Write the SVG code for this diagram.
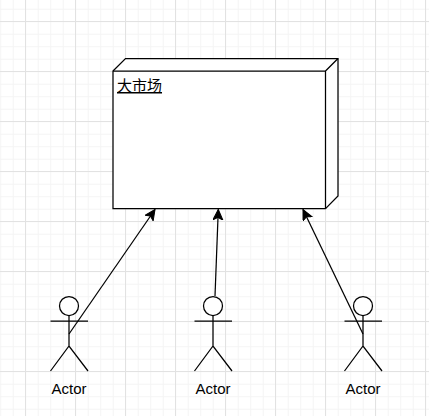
<svg xmlns="http://www.w3.org/2000/svg" width="429" height="416" viewBox="0 0 429 416">
<style>
.shape{fill:#fff;stroke:#000;stroke-width:1.25}
.line{fill:none;stroke:#000;stroke-width:1.25}
.label{font-family:"Liberation Sans",Arial,sans-serif;font-size:15px;fill:#000;text-anchor:middle}
.cjk{font-family:"Noto Sans CJK SC","Liberation Sans",sans-serif;font-size:15px;fill:#000;text-decoration:underline}
</style>
<defs>
<marker id="arrow" markerUnits="userSpaceOnUse" markerWidth="14" markerHeight="12" refX="10.5" refY="5" orient="auto">
<path d="M0 0L10.5 5L0 10L2.6 5Z" fill="#000" stroke="#000" stroke-width="1"/>
</marker>
<pattern id="minor" width="12.5" height="12.5" patternUnits="userSpaceOnUse" x="0.25" y="-3.75">
<path d="M0.5 0V12.5M0 0.5H12.5" fill="none" stroke="#f4f4f4" stroke-width="1"/>
</pattern>
<pattern id="major" width="50" height="50" patternUnits="userSpaceOnUse" x="25" y="21">
<path d="M0.5 0V50M0 0.5H50" fill="none" stroke="#e2e2e2" stroke-width="1"/>
</pattern>
</defs>
<rect width="429" height="416" fill="#fff"/>
<rect width="429" height="416" fill="url(#minor)"/>
<rect width="429" height="416" fill="url(#major)"/>
<g id="market">
<path class="shape" d="M113 71L125.5 58.5H338V196L325.5 208.7H113Z"/>
<path class="line" d="M113 71H325.5V208.7M325.5 71L338 58.5"/>
<text class="cjk" x="117" y="91">大市场</text>
</g>
<g id="actor1">
<circle class="shape" cx="69" cy="306" r="9.5"/>
<path class="line" d="M69 315.5V346M50.5 321H88M50.5 371L69 346L88 371"/>
<text class="label" x="69" y="394">Actor</text>
</g>
<g id="actor2">
<circle class="shape" cx="213" cy="306" r="9.5"/>
<path class="line" d="M213 315.5V346M194.5 321H232M194.5 371L213 346L232 371"/>
<text class="label" x="213" y="394">Actor</text>
</g>
<g id="actor3">
<circle class="shape" cx="363" cy="306" r="9.5"/>
<path class="line" d="M363 315.5V346M344.5 321H382M344.5 371L363 346L382 371"/>
<text class="label" x="363" y="394">Actor</text>
</g>
<g id="connectors">
<path class="line" marker-end="url(#arrow)" d="M69 334L155 209.5"/>
<path class="line" marker-end="url(#arrow)" d="M215 296L218.3 209.5"/>
<path class="line" marker-end="url(#arrow)" d="M363 334L303 209.5"/>
</g>
</svg>
